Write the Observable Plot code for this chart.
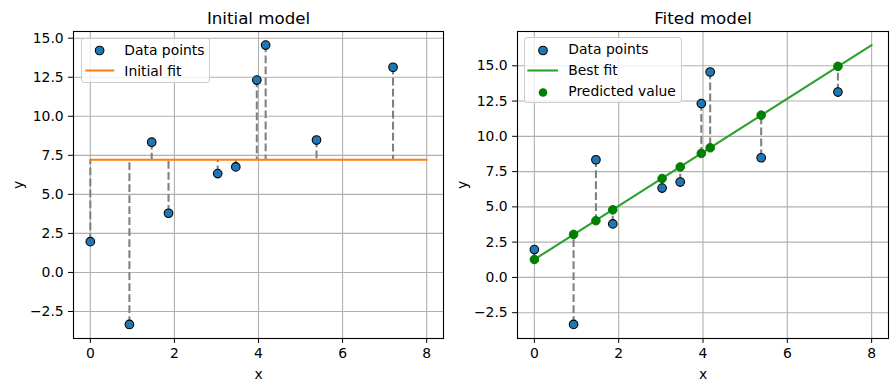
<!DOCTYPE html>
<html><head><meta charset="utf-8">
<script src="https://cdn.jsdelivr.net/npm/d3@7"></script>
<script src="https://cdn.jsdelivr.net/npm/@observablehq/plot@0.6"></script>
<style>
body{margin:0;background:#fff;font-family:"DejaVu Sans",sans-serif;}
#chart{position:relative;width:896px;height:391px;overflow:hidden;background:#fff;}
.panel{position:absolute;top:0;}
.legend{position:absolute;border:1px solid #cccccc;border-radius:3px;background:rgba(255,255,255,0.8);box-sizing:border-box;font-size:13.9px;color:#000;font-family:"DejaVu Sans",sans-serif;}
.row{height:21px;display:flex;align-items:center;white-space:nowrap;}
.row svg{flex:none;display:block;}
</style></head><body><div id="chart"></div>
<script>
// ---- data ----
const xData = [0, 0.93, 1.46, 1.86, 3.03, 3.46, 3.96, 4.17, 5.38, 7.20];
const yData = [1.97, -3.33, 8.34, 3.79, 6.33, 6.76, 12.32, 14.56, 8.48, 13.14];
const initialFitValue = 7.22;
const fitX = [0, 8];
const initialFitY = [7.22, 7.22];
const bestFitY = [1.27, 16.47];
const predicted = [1.27, 3.05, 4.02, 4.79, 7.01, 7.83, 8.79, 9.19, 11.50, 14.96];
const xTicks = [0, 2, 4, 6, 8];
const yTicks = [-2.5, 0, 2.5, 5, 7.5, 10, 12.5, 15];
const titles = ["Initial model", "Fited model"];
const legendLeft = ["Data points", "Initial fit"];
const legendRight = ["Data points", "Best fit", "Predicted value"];

const BLUE = "#1f77b4", ORANGE = "#ff7f0e", LGREEN = "#2ca02c", GREEN = "green";

function panel({title, yDomain, marginLeft, marginRight, fitY, fitColor, residualEnd, showPred}) {
  const pts = xData.map((x, i) => ({x, y: yData[i], end: residualEnd[i], pred: predicted[i]}));
  const line = fitX.map((x, i) => ({x, y: fitY[i]}));
  return Plot.plot({
    width: 448, height: 391,
    marginTop: 31, marginBottom: 53, marginLeft, marginRight,
    style: {fontFamily: "DejaVu Sans", fontSize: "13.9px", color: "#000", background: "transparent", overflow: "visible"},
    x: {domain: [-0.4, 8.4]},
    y: {domain: yDomain},
    marks: [
      Plot.gridX(xTicks, {stroke: "#b0b0b0", strokeOpacity: 1, strokeWidth: 1.1}),
      Plot.gridY(yTicks, {stroke: "#b0b0b0", strokeOpacity: 1, strokeWidth: 1.1}),
      Plot.ruleX(pts, {x: "x", y1: "y", y2: "end", stroke: "gray", strokeWidth: 2.08, strokeDasharray: "7.7,3.3"}),
      Plot.dot(pts, {x: "x", y: "y", r: 4.3, fill: BLUE, stroke: "black", strokeWidth: 1.1}),
      Plot.line(line, {x: "x", y: "y", stroke: fitColor, strokeWidth: 2.08}),
      showPred ? Plot.dot(pts, {x: "x", y: "pred", r: 4.3, fill: GREEN, stroke: GREEN, strokeWidth: 1}) : null,
      Plot.frame({stroke: "black", strokeWidth: 1.1}),
      Plot.axisX(xTicks, {tickSize: 4.9, tickPadding: 4.9, tickFormat: d => String(d), label: "x", labelAnchor: "center", labelArrow: "none", labelOffset: 40}),
      Plot.axisY(yTicks, {tickSize: 4.9, tickPadding: 4.9, tickFormat: d3.format(".1f"), label: "y", labelAnchor: "center", labelArrow: "none", labelOffset: 60}),
      Plot.text([title], {text: d => d, frameAnchor: "top", dy: -8, lineAnchor: "bottom", fontSize: 16.67})
    ]
  });
}

function legend(entries, kinds, pos) {
  const div = document.createElement("div");
  div.className = "legend";
  Object.assign(div.style, {left: pos.left + "px", top: pos.top + "px", width: pos.width + "px", height: pos.height + "px", paddingTop: pos.padTop + "px"});
  entries.forEach((label, i) => {
    const row = document.createElement("div");
    row.className = "row";
    const k = kinds[i];
    let sym;
    if (k.type === "line") sym = `<line x1="${pos.lx1}" x2="${pos.lx2}" y1="10.5" y2="10.5" stroke="${k.color}" stroke-width="2.08"/>`;
    else sym = `<circle cx="${pos.cx}" cy="${11.5}" r="4.3" fill="${k.color}" ${k.edge ? 'stroke="black" stroke-width="1.1"' : ''}/>`;
    row.innerHTML = `<svg width="${pos.textX}" height="21">${sym}</svg><span>${label}</span>`;
    div.appendChild(row);
  });
  return div;
}

const chart = document.getElementById("chart");
const left = panel({title: titles[0], yDomain: [-4.23, 15.43], marginLeft: 73, marginRight: 5,
  fitY: initialFitY, fitColor: ORANGE, residualEnd: xData.map(() => initialFitValue), showPred: false});
left.classList.add("panel"); left.style.left = "0px";
const right = panel({title: titles[1], yDomain: [-4.33, 17.43], marginLeft: 69, marginRight: 8,
  fitY: bestFitY, fitColor: LGREEN, residualEnd: predicted, showPred: true});
right.classList.add("panel"); right.style.left = "448px";
chart.appendChild(left);
chart.appendChild(right);

chart.appendChild(legend(legendLeft, [{type: "dot", color: BLUE, edge: true}, {type: "line", color: ORANGE}],
  {left: 80.7, top: 38.3, width: 129.5, height: 44.5, padTop: 0, cx: 17.6, lx1: 3.3, lx2: 32.3, textX: 42.6}));
chart.appendChild(legend(legendRight, [{type: "dot", color: BLUE, edge: true}, {type: "line", color: LGREEN}, {type: "dot", color: GREEN, edge: false}],
  {left: 524.3, top: 37.3, width: 157.5, height: 66.2, padTop: 0.5, cx: 18, lx1: 2.4, lx2: 33, textX: 43}));
</script></body></html>
